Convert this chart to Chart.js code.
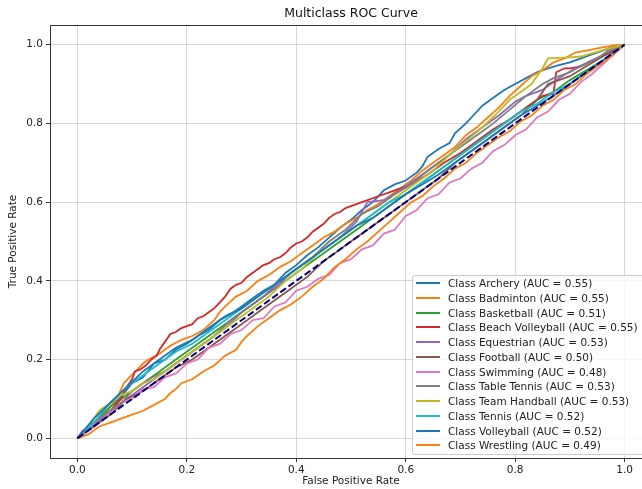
<!DOCTYPE html>
<html>
<head>
<meta charset="utf-8">
<script src="https://cdn.jsdelivr.net/npm/chart.js@4/dist/chart.umd.min.js"></script>
<style>
  html, body { margin: 0; padding: 0; background: #fff; overflow: hidden; }
  #wrap { position: relative; width: 642px; height: 489px; overflow: hidden; }
  #holder { position: absolute; left: 0; top: 0; width: 700px; height: 489px; }
  #legend {
    position: absolute; left: 412px; top: 275px; width: 236px; height: 178px;
    background: rgba(255,255,255,0.8); border: 1px solid #cccccc; border-radius: 3px;
    font: 10.5px "DejaVu Sans", sans-serif; color: #222;
  }
  #legend .row { position: absolute; left: 3px; height: 14px; display: flex; align-items: center; white-space: nowrap; }
  #legend .sw { width: 24px; height: 2px; margin-right: 8px; }
</style>
</head>
<body>
<div id="wrap">
  <div id="holder"><canvas id="mycanvas"></canvas></div>
  <div id="legend"></div>
</div>
<script>
// class names, AUC values, colours (matplotlib cycle)
const classNames = ['Archery', 'Badminton', 'Basketball', 'Beach Volleyball', 'Equestrian', 'Football',
  'Swimming', 'Table Tennis', 'Team Handball', 'Tennis', 'Volleyball', 'Wrestling'];
const aucValues = [0.55, 0.55, 0.51, 0.55, 0.53, 0.50, 0.48, 0.53, 0.53, 0.52, 0.52, 0.49];
const lineColors = ['#1f77b4', '#ff7f0e', '#2ca02c', '#d62728', '#9467bd', '#8c564b',
  '#e377c2', '#7f7f7f', '#bcbd22', '#17becf', '#1f77b4', '#ff7f0e'];
const tickValues = [0, 0.2, 0.4, 0.6, 0.8, 1.0];

// [fpr, tpr]
const archery = [[0,0],[.02,.025],[.04,.045],[.06,.08],[.08,.105],[.1,.14],[.12,.155],[.14,.19],[.16,.2],[.18,.225],[.2,.24],[.22,.26],[.24,.275],[.26,.3],[.28,.315],[.3,.335],[.32,.355],[.34,.375],[.36,.39],[.38,.42],[.4,.44],[.42,.465],[.44,.485],[.46,.51],[.48,.535],[.5,.555],[.52,.58],[.54,.6],[.56,.63],[.58,.645],[.6,.655],[.62,.675],[.63,.69],[.64,.715],[.66,.735],[.68,.75],[.69,.775],[.71,.8],[.72,.815],[.74,.845],[.76,.865],[.78,.885],[.8,.9],[.82,.915],[.84,.93],[.86,.94],[.88,.948],[.9,.955],[.92,.965],[.94,.975],[.96,.985],[.98,.995],[1,1]];
const badminton = [[0,0],[.02,.02],[.04,.05],[.06,.08],[.075,.11],[.085,.14],[.095,.155],[.11,.175],[.12,.19],[.13,.2],[.15,.215],[.17,.235],[.19,.25],[.21,.26],[.23,.275],[.25,.3],[.26,.32],[.27,.335],[.29,.36],[.31,.375],[.33,.4],[.35,.415],[.37,.435],[.39,.45],[.41,.47],[.43,.49],[.45,.51],[.47,.525],[.49,.545],[.51,.56],[.53,.58],[.55,.595],[.57,.615],[.59,.635],[.61,.655],[.63,.68],[.65,.7],[.67,.72],[.69,.74],[.71,.77],[.73,.79],[.75,.815],[.77,.84],[.79,.87],[.81,.895],[.83,.92],[.85,.935],[.87,.955],[.89,.965],[.91,.98],[.93,.985],[.955,.992],[.98,.998],[1,1]];
const basketball = [[0,0],[.03,.04],[.06,.08],[.09,.11],[.12,.14],[.15,.17],[.18,.2],[.21,.23],[.24,.26],[.27,.29],[.3,.32],[.33,.35],[.36,.38],[.39,.41],[.42,.44],[.45,.47],[.48,.5],[.51,.53],[.54,.56],[.57,.59],[.6,.62],[.63,.65],[.66,.68],[.69,.71],[.72,.74],[.75,.77],[.78,.8],[.81,.83],[.84,.86],[.87,.88],[.9,.91],[.93,.935],[.96,.96],[1,1]];
const beachVolleyball = [[0,0],[.01,.02],[.02,.025],[.03,.035],[.04,.05],[.05,.055],[.06,.07],[.07,.085],[.08,.1],[.085,.12],[.09,.13],[.1,.15],[.105,.17],[.115,.175],[.125,.185],[.135,.2],[.145,.21],[.15,.225],[.16,.245],[.17,.265],[.18,.27],[.19,.28],[.2,.285],[.21,.29],[.22,.305],[.23,.31],[.24,.32],[.25,.33],[.26,.345],[.27,.36],[.28,.38],[.29,.39],[.3,.395],[.31,.41],[.32,.42],[.33,.43],[.34,.44],[.35,.445],[.36,.455],[.37,.46],[.38,.47],[.39,.485],[.4,.495],[.41,.5],[.42,.51],[.43,.525],[.44,.535],[.45,.545],[.46,.56],[.47,.57],[.48,.575],[.49,.585],[.5,.59],[.52,.6],[.55,.615],[.58,.63],[.61,.645],[.64,.67],[.67,.7],[.7,.725],[.73,.755],[.76,.785],[.79,.81],[.82,.84],[.85,.87],[.87,.875],[.875,.93],[.89,.94],[.9,.94],[.92,.945],[.95,.965],[.98,.985],[1,1]];
const equestrian = [[0,0],[.03,.03],[.06,.07],[.09,.1],[.12,.13],[.15,.16],[.18,.19],[.21,.22],[.24,.25],[.27,.28],[.3,.32],[.33,.35],[.36,.38],[.39,.42],[.42,.45],[.45,.48],[.48,.51],[.51,.55],[.53,.6],[.56,.605],[.59,.63],[.62,.66],[.65,.69],[.68,.72],[.71,.76],[.74,.79],[.77,.82],[.8,.855],[.82,.87],[.85,.885],[.88,.915],[.91,.94],[.94,.96],[.97,.98],[1,1]];
const football = [[0,0],[.03,.03],[.06,.06],[.09,.1],[.12,.12],[.15,.15],[.18,.18],[.21,.2],[.24,.23],[.27,.26],[.3,.29],[.33,.32],[.36,.35],[.39,.38],[.42,.41],[.45,.45],[.48,.48],[.51,.51],[.54,.54],[.57,.57],[.6,.6],[.63,.63],[.66,.66],[.69,.7],[.72,.73],[.75,.76],[.78,.79],[.81,.82],[.84,.86],[.86,.9],[.88,.91],[.9,.92],[.93,.945],[.96,.97],[1,1]];
const swimming = [[0,0],[.02,.025],[.04,.05],[.06,.065],[.08,.09],[.1,.1],[.12,.125],[.14,.13],[.16,.155],[.18,.165],[.2,.19],[.22,.2],[.24,.23],[.26,.24],[.28,.265],[.3,.275],[.32,.3],[.34,.305],[.36,.335],[.38,.345],[.4,.375],[.42,.385],[.44,.405],[.46,.415],[.48,.445],[.5,.455],[.52,.48],[.54,.49],[.56,.52],[.58,.53],[.6,.565],[.62,.58],[.64,.61],[.66,.62],[.68,.65],[.7,.66],[.72,.685],[.74,.7],[.76,.73],[.78,.745],[.8,.77],[.82,.785],[.84,.815],[.86,.83],[.88,.86],[.9,.875],[.92,.905],[.94,.925],[.96,.95],[.98,.975],[1,1]];
const tableTennis = [[0,0],[.02,.03],[.05,.06],[.08,.09],[.1,.12],[.13,.15],[.16,.17],[.19,.2],[.22,.23],[.25,.26],[.28,.3],[.31,.33],[.34,.36],[.37,.4],[.4,.43],[.43,.46],[.46,.5],[.49,.53],[.52,.57],[.55,.59],[.58,.62],[.61,.645],[.64,.68],[.67,.71],[.7,.74],[.73,.77],[.76,.8],[.79,.835],[.82,.87],[.85,.9],[.87,.915],[.9,.93],[.92,.945],[.95,.965],[.97,.985],[1,1]];
const teamHandball = [[0,0],[.02,.03],[.04,.07],[.06,.09],[.08,.11],[.1,.12],[.12,.14],[.14,.15],[.16,.17],[.18,.19],[.2,.21],[.23,.24],[.26,.27],[.29,.3],[.32,.33],[.35,.36],[.38,.4],[.41,.43],[.44,.47],[.47,.5],[.5,.53],[.53,.56],[.56,.59],[.59,.62],[.62,.65],[.65,.68],[.68,.72],[.71,.755],[.74,.79],[.77,.83],[.79,.86],[.81,.88],[.83,.9],[.85,.94],[.86,.965],[.9,.968],[.92,.97],[.94,.978],[.97,.99],[1,1]];
const tennis = [[0,0],[.03,.04],[.06,.09],[.09,.13],[.12,.16],[.15,.19],[.18,.22],[.21,.24],[.24,.27],[.27,.3],[.3,.33],[.33,.36],[.36,.39],[.39,.42],[.42,.45],[.45,.48],[.48,.51],[.51,.54],[.54,.57],[.57,.6],[.6,.62],[.63,.65],[.66,.68],[.69,.71],[.72,.74],[.75,.77],[.78,.8],[.81,.83],[.84,.85],[.87,.88],[.9,.9],[.93,.93],[.96,.96],[1,1]];
const volleyball = [[0,0],[.03,.05],[.06,.09],[.09,.13],[.12,.17],[.15,.2],[.18,.23],[.21,.25],[.24,.28],[.27,.31],[.3,.33],[.33,.36],[.36,.39],[.39,.42],[.42,.45],[.45,.48],[.48,.51],[.51,.54],[.54,.56],[.57,.59],[.6,.62],[.63,.645],[.66,.67],[.69,.7],[.72,.73],[.75,.76],[.78,.79],[.81,.82],[.84,.845],[.87,.87],[.9,.9],[.93,.93],[.96,.96],[1,1]];
const wrestling = [[0,0],[.02,.01],[.04,.03],[.06,.04],[.08,.05],[.1,.06],[.12,.07],[.14,.085],[.16,.1],[.17,.115],[.18,.125],[.19,.14],[.21,.15],[.23,.17],[.25,.185],[.27,.21],[.29,.225],[.3,.245],[.31,.26],[.33,.285],[.35,.305],[.37,.325],[.39,.34],[.41,.36],[.43,.385],[.45,.405],[.47,.435],[.49,.455],[.51,.48],[.53,.5],[.55,.525],[.57,.55],[.59,.575],[.61,.6],[.63,.615],[.65,.64],[.67,.66],[.69,.685],[.71,.7],[.73,.725],[.75,.745],[.77,.765],[.79,.78],[.81,.805],[.83,.82],[.85,.845],[.87,.86],[.89,.885],[.91,.9],[.93,.925],[.95,.945],[.97,.965],[1,1]];
const chanceLine = [[0,0],[1,1]];

const curves = [archery, badminton, basketball, beachVolleyball, equestrian, football,
  swimming, tableTennis, teamHandball, tennis, volleyball, wrestling];

function createChart() {
    const ctx = document.getElementById('mycanvas').getContext('2d');
    Chart.defaults.font.family = '"DejaVu Sans", sans-serif';
    Chart.defaults.color = '#222';

    // matplotlib style box around the axes
    const axesFrame = {
        id: 'axesFrame',
        afterDraw: chart => {
            const { ctx, chartArea: a } = chart;
            ctx.save();
            ctx.strokeStyle = '#333';
            ctx.lineWidth = 1;
            ctx.strokeRect(a.left + 0.5, a.top + 0.5, a.right - a.left, a.bottom - a.top);
            ctx.restore();
        }
    };

    const datasets = curves.map((pts, i) => ({
        label: `Class ${classNames[i]} (AUC = ${aucValues[i].toFixed(2)})`,
        data: pts.map(p => ({ x: p[0], y: p[1] })),
        borderColor: lineColors[i],
        borderWidth: 1.8,
        showLine: true,
        pointRadius: 0,
        order: 20 - i,
    }));
    datasets.push({
        label: 'chance',
        data: chanceLine.map(p => ({ x: p[0], y: p[1] })),
        borderColor: '#000080',
        borderWidth: 2,
        borderDash: [7, 3],
        showLine: true,
        pointRadius: 0,
        order: 0,
    });

    const setTicks = scale => { scale.ticks = tickValues.map(v => ({ value: v })); };

    new Chart(ctx, {
        type: 'scatter',
        data: { datasets },
        options: {
            responsive: true,
            maintainAspectRatio: false,
            animation: false,
            layout: { padding: { left: 0, right: 48, top: 0, bottom: 0 } },
            plugins: {
                legend: { display: false },
                tooltip: { enabled: false },
                title: {
                    display: true,
                    text: 'Multiclass ROC Curve',
                    fullSize: false,
                    color: '#111',
                    font: { size: 12.5, weight: 'normal' },
                    padding: { top: 6, bottom: 4 },
                },
            },
            scales: {
                x: {
                    type: 'linear',
                    min: -0.05,
                    max: 1.05,
                    afterBuildTicks: setTicks,
                    afterFit: scale => { scale.height = 31; },
                    ticks: { font: { size: 10.5 }, padding: 2, maxRotation: 0, callback: v => v.toFixed(1) },
                    grid: { color: 'rgba(176,176,176,0.5)', tickColor: '#333', tickLength: 4 },
                    border: { display: false },
                    title: { display: true, text: 'False Positive Rate', font: { size: 10.5 }, padding: { top: 0, bottom: 1 } },
                },
                y: {
                    type: 'linear',
                    min: -0.05,
                    max: 1.05,
                    afterBuildTicks: setTicks,
                    afterFit: scale => { scale.width = 50; },
                    ticks: { font: { size: 10.5 }, padding: 3, callback: v => v.toFixed(1) },
                    grid: { color: 'rgba(176,176,176,0.5)', tickColor: '#333', tickLength: 4 },
                    border: { display: false },
                    title: { display: true, text: 'True Positive Rate', font: { size: 10.5 }, padding: { top: 7, bottom: 0 } },
                },
            },
        },
        plugins: [axesFrame],
    });

    // legend in lower right, built from the same series
    const leg = document.getElementById('legend');
    classNames.forEach((name, i) => {
        const row = document.createElement('div');
        row.className = 'row';
        row.style.top = (i * 14.75) + 'px';
        const sw = document.createElement('div');
        sw.className = 'sw';
        sw.style.background = lineColors[i];
        row.appendChild(sw);
        row.appendChild(document.createTextNode(`Class ${name} (AUC = ${aucValues[i].toFixed(2)})`));
        leg.appendChild(row);
    });
}

createChart();
</script>
</body>
</html>
